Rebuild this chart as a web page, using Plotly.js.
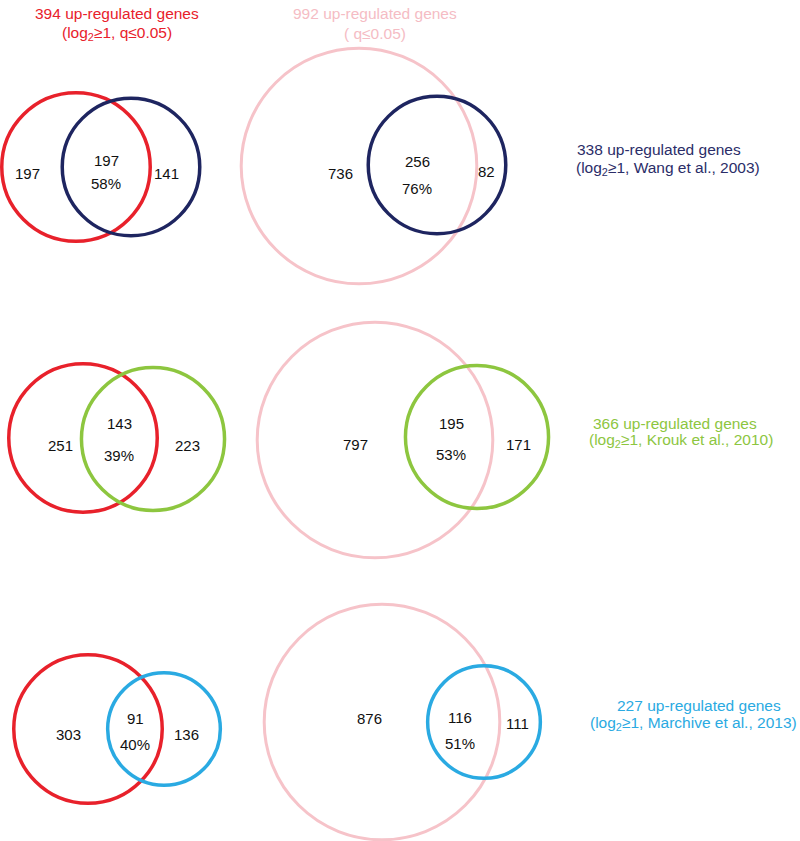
<!DOCTYPE html>
<html>
<head>
<meta charset="utf-8">
<script src="https://cdn.plot.ly/plotly-3.0.1.min.js"></script>
<style>html,body{margin:0;padding:0;background:#fff;}#chart{width:800px;height:841px;}</style>
</head>
<body>
<div id="chart"></div>
<script>
// ---- data ----
const refTotals = [394, 992];                       // strict (log2>=1, q<=0.05), broad (q<=0.05)
const refLine1 = ['394 up-regulated genes', '992 up-regulated genes'];
const refLine2 = ['(log<sub>2</sub>≥1, q≤0.05)', '( q≤0.05)'];
const compTotals = [338, 366, 227];
const compSources = ['Wang et al., 2003', 'Krouk et al., 2010', 'Marchive et al., 2013'];
const onlyStrict = [197, 251, 303];
const overlapStrict = [197, 143, 91];
const onlyCompStrict = [141, 223, 136];
const onlyBroad = [736, 797, 876];
const overlapBroad = [256, 195, 116];
const onlyCompBroad = [82, 171, 111];

// ---- styles / layout constants ----
const refColors = ['#e8212b', '#f6c3c9'];
const refTextColors = ['#e8212b', '#f5bcc4'];
const compColors = ['#1e2560', '#8dc63f', '#2aaae2'];
const compTextColors = ['#2b2d68', '#8dc63f', '#2aaae2'];
const K = 3.74; // radius per sqrt(gene count), px
const FONT = 'Liberation Sans, Arial, sans-serif';

// panel geometry: [refCx, refCy, compCx, compCy] for strict (left) and broad (right) panels
const geoLeft  = [[76, 167, 131, 167], [83, 438, 153, 439], [88, 729, 164, 729]];
const geoRight = [[359, 166, 437, 165], [375, 440, 477, 437], [382, 722, 484, 722]];
// label positions: [onlyRefX, onlyRefY, ovX, ovY1, ovY2, onlyCompX, onlyCompY]
const lblLeft  = [[27, 173, 106, 160, 183, 166, 173], [60, 445, 119, 423, 455, 187, 445], [68, 734, 135, 718, 744, 186, 734]];
const lblRight = [[340, 173, 417, 161, 188, 486, 171], [355, 444, 451, 423, 454, 518, 444], [369, 718, 460, 717, 743, 517, 723]];
const refTitlePos = [[117, 13, 33], [375, 13, 33]];
const compTitlePos = [[659, 149, 668, 168], [675, 423, 681, 440], [699, 705, 693, 723]];

const shapes = [];
const annotations = [];

function circle(cx, cy, n, color, width) {
  const r = K * Math.sqrt(n);
  shapes.push({type: 'circle', xref: 'x', yref: 'y', x0: cx - r, x1: cx + r, y0: cy - r, y1: cy + r,
    line: {color: color, width: width}, fillcolor: 'rgba(0,0,0,0)', layer: 'above'});
}
function label(x, y, text, color, size) {
  annotations.push({x: x, y: y, xref: 'x', yref: 'y', text: text, showarrow: false,
    xanchor: 'center', yanchor: 'middle', font: {family: FONT, size: size || 15, color: color || '#111'}});
}
const pct = (a, b) => Math.round(100 * a / b) + '%';

for (let i = 0; i < 3; i++) {
  // left panels: strict set vs comparison
  const g = geoLeft[i];
  circle(g[0], g[1], refTotals[0], refColors[0], 3.5);
  circle(g[2], g[3], compTotals[i], compColors[i], 3.5);
  const l = lblLeft[i];
  label(l[0], l[1], String(onlyStrict[i]));
  label(l[2], l[3], String(overlapStrict[i]));
  label(l[2], l[4], pct(overlapStrict[i], compTotals[i]));
  label(l[5], l[6], String(onlyCompStrict[i]));

  // right panels: broad set vs comparison
  const h = geoRight[i];
  circle(h[0], h[1], refTotals[1], refColors[1], 3);
  circle(h[2], h[3], compTotals[i], compColors[i], 3.5);
  const m = lblRight[i];
  label(m[0], m[1], String(onlyBroad[i]));
  label(m[2], m[3], String(overlapBroad[i]));
  label(m[2], m[4], pct(overlapBroad[i], compTotals[i]));
  label(m[5], m[6], String(onlyCompBroad[i]));

  // comparison titles
  const t = compTitlePos[i];
  label(t[0], t[1], compTotals[i] + ' up-regulated genes', compTextColors[i], 15.5);
  label(t[2], t[3], '(log<sub>2</sub>≥1, ' + compSources[i] + ')', compTextColors[i], 15.5);
}
for (let j = 0; j < 2; j++) {
  const p = refTitlePos[j];
  label(p[0], p[1], refLine1[j], refTextColors[j], 15.5);
  label(p[0], p[2], refLine2[j], refTextColors[j], 15.5);
}

const layout = {
  width: 800, height: 841,
  margin: {l: 0, r: 0, t: 0, b: 0, pad: 0},
  paper_bgcolor: '#ffffff', plot_bgcolor: '#ffffff',
  showlegend: false,
  xaxis: {range: [0, 800], visible: false, fixedrange: true},
  yaxis: {range: [841, 0], visible: false, fixedrange: true},
  shapes: shapes,
  annotations: annotations
};
Plotly.newPlot('chart', [{x: [], y: [], type: 'scatter', mode: 'markers', hoverinfo: 'skip'}], layout, {staticPlot: true});
</script>
</body>
</html>
